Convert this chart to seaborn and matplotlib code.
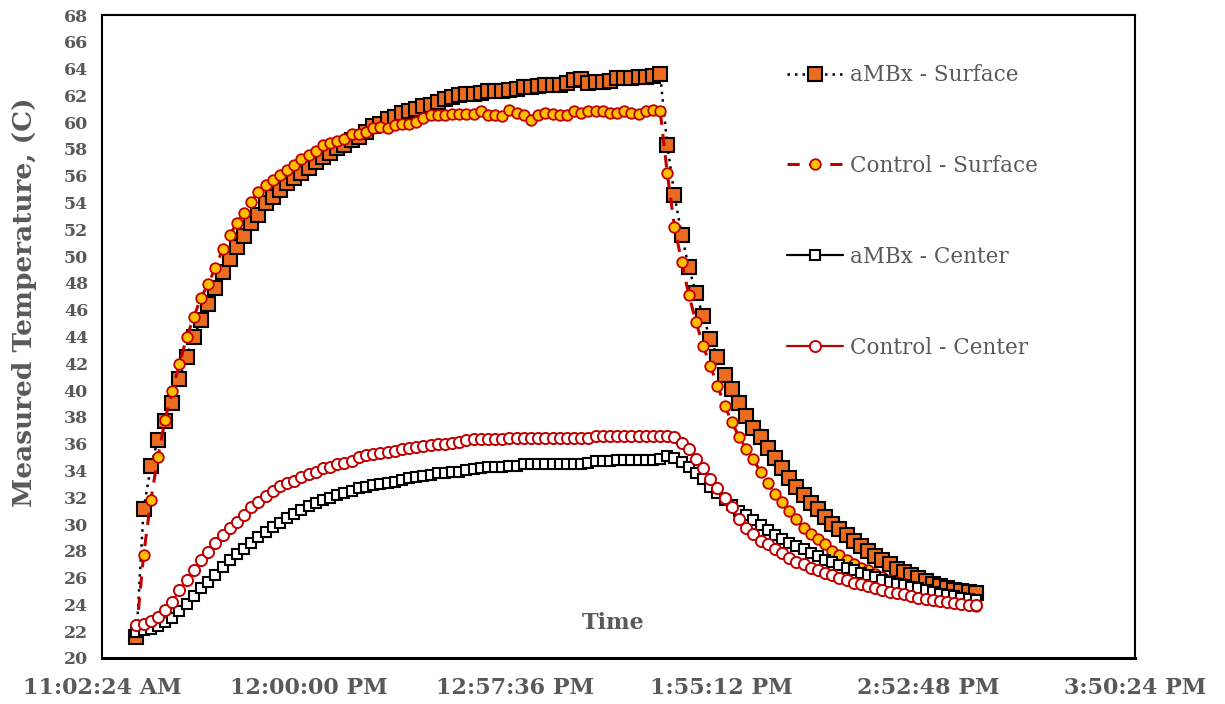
import matplotlib
matplotlib.use("Agg")
import matplotlib.pyplot as plt
import matplotlib.dates as mdates
import seaborn as sns
import pandas as pd

# ---------------- data ----------------
start_time = "2000-01-01 11:12:00"
sample_step = "2min"

ambx_surface = [
    21.6, 31.1, 34.3, 36.3, 37.7, 39.0, 40.8, 42.5,
    44.0, 45.2, 46.4, 47.6, 48.8, 49.8, 50.7, 51.5, 52.5, 53.1, 53.95, 54.45,
    54.95, 55.45, 55.8, 56.2, 56.6, 57.06, 57.4, 57.7, 58.06, 58.3, 58.7, 58.9,
    59.3, 59.7, 59.9, 60.2, 60.4,
    60.7, 60.8, 61.0, 61.2, 61.3, 61.5, 61.7, 61.9, 62.05, 62.1, 62.1, 62.15,
    62.3, 62.35, 62.3, 62.4, 62.5, 62.6, 62.65, 62.7, 62.75, 62.75, 62.8, 62.95,
    63.15, 63.2, 62.95, 63.0, 63.0, 63.05, 63.3, 63.3, 63.3, 63.35, 63.4, 63.45, 63.6,
    58.3, 54.55, 51.6, 49.18, 47.24, 45.5, 43.8, 42.46, 41.12, 40.05, 39.05, 38.03,
    37.2, 36.5, 35.65, 34.9, 34.15, 33.4, 32.78, 32.16, 31.58, 31.09, 30.54, 30.04,
    29.6, 29.17, 28.74, 28.35, 27.97, 27.6, 27.3, 27.0, 26.68, 26.43, 26.18, 25.98,
    25.75, 25.56, 25.38, 25.23, 25.1, 25.0, 24.93, 24.86,
]

control_surface = [
    22.0, 27.67, 31.78, 35.0, 37.8, 39.95, 41.95, 43.95, 45.45,
    46.9, 47.92, 49.1, 50.5, 51.58, 52.46, 53.2, 54.07, 54.75, 55.32, 55.65,
    56.07, 56.44, 56.8, 57.26, 57.56, 57.88, 58.3, 58.48, 58.63, 58.74, 59.13,
    59.13, 59.3, 59.56, 59.63, 59.56, 59.8, 59.88, 59.9, 59.98,
    60.3, 60.55, 60.5, 60.55, 60.63, 60.63, 60.63, 60.63, 60.8, 60.55, 60.5,
    60.48, 60.93, 60.68, 60.55, 60.18, 60.55, 60.68, 60.63, 60.55, 60.55, 60.8,
    60.68, 60.8, 60.8, 60.87, 60.68, 60.68, 60.8, 60.68, 60.63, 60.87, 60.93, 60.87,
    56.17, 52.21, 49.58, 47.11, 45.1, 43.3, 41.82, 40.32, 38.84, 37.63, 36.5, 35.6,
    34.82, 33.9, 33.08, 32.23, 31.66, 30.99, 30.34, 29.74, 29.24, 28.85, 28.5, 28.0,
    27.67, 27.35, 27.0, 26.75, 26.55, 26.3, 26.05, 25.86, 25.68, 25.5, 25.3, 25.13,
    24.93, 24.76, 24.56, 24.36, 24.24, 24.06, 23.94, 23.9,
]

ambx_center = [
    21.94, 22.07, 22.2, 22.37, 22.69, 23.02, 23.51, 24.06, 24.61, 25.19, 25.68,
    26.18, 26.8, 27.3, 27.73, 28.17, 28.59, 29.0, 29.41, 29.79, 30.09, 30.42,
    30.74, 31.04, 31.34, 31.58, 31.78, 31.98, 32.16, 32.33, 32.48, 32.66, 32.78,
    32.9, 32.98, 33.08, 33.15, 33.28, 33.4, 33.48, 33.58,
    33.65, 33.78, 33.82, 33.9, 33.9, 34.03, 34.08, 34.22, 34.27, 34.27, 34.27,
    34.3, 34.3, 34.45, 34.47, 34.47, 34.5, 34.5, 34.5, 34.5, 34.5, 34.5, 34.55,
    34.7, 34.72, 34.72, 34.75, 34.75, 34.75, 34.75, 34.75, 34.8, 34.85,
    35.1, 34.9, 34.6,
    34.27, 33.78, 33.33, 32.78, 32.33, 31.78, 31.41, 30.98, 30.66, 30.29, 29.92,
    29.54, 29.17, 28.92, 28.59, 28.35, 28.1, 27.85, 27.6, 27.35, 27.17, 26.93,
    26.75, 26.55, 26.35, 26.18, 26.05, 25.86, 25.68, 25.56, 25.43, 25.3, 25.19,
    25.06, 24.93, 24.81, 24.69, 24.61, 24.51, 24.44, 24.31,
]

control_center = [
    22.44, 22.52, 22.74, 23.06, 23.56, 24.18, 25.06, 25.8, 26.55, 27.3, 27.92,
    28.59, 29.17, 29.67, 30.16, 30.66, 31.24, 31.66, 32.08, 32.48, 32.83, 33.03,
    33.23, 33.48, 33.73, 33.9, 34.15, 34.27, 34.47, 34.57, 34.72, 34.97, 35.15,
    35.22, 35.27, 35.39, 35.47, 35.57, 35.65, 35.77, 35.82,
    35.9, 35.95, 36.0, 36.05, 36.1, 36.3, 36.33, 36.35, 36.35, 36.35, 36.38,
    36.4, 36.4, 36.4, 36.4, 36.4, 36.4, 36.4, 36.4, 36.42, 36.42, 36.42, 36.45,
    36.57, 36.57, 36.57, 36.57, 36.57, 36.57, 36.57, 36.57, 36.57, 36.57,
    36.55, 36.5,
    36.07, 35.57, 34.82, 34.15, 33.33, 32.66, 31.91, 31.24, 30.34, 29.74, 29.24,
    28.74, 28.5, 28.17, 27.85, 27.5, 27.17, 27.0, 26.75, 26.55, 26.35, 26.18,
    26.0, 25.8, 25.63, 25.5, 25.36, 25.19, 25.06, 24.93, 24.86, 24.76, 24.63,
    24.51, 24.44, 24.36, 24.26, 24.19, 24.11, 24.06, 23.99, 23.94,
]

series_names = ["aMBx - Surface", "Control - Surface", "aMBx - Center", "Control - Center"]
x_tick_labels = ["11:02:24 AM", "12:00:00 PM", "12:57:36 PM", "1:55:12 PM", "2:52:48 PM", "3:50:24 PM"]
y_ticks = list(range(20, 69, 2))

# ---------------- style ----------------
sns.set_style("white")
plt.rcParams["font.family"] = ["DejaVu Serif"]
GRAY = "#595959"
RED = "#C00000"
ORANGE = "#EB6B21"
GOLD = "#FFC000"

fig = plt.figure(figsize=(12.25, 7.04), dpi=100)
ax = fig.add_axes([102 / 1225, 1 - 658 / 704, (1135 - 102) / 1225, (658 - 15) / 704])

def times_for(vals):
    return pd.date_range(start_time, periods=len(vals), freq=sample_step)

styles = [
    dict(color="black", linestyle=(0, (1, 2)), linewidth=1.8, marker="s", markersize=10,
         markerfacecolor=ORANGE, markeredgecolor="black", markeredgewidth=1.5),
    dict(color=RED, linestyle=(0, (4, 3)), linewidth=2.2, marker="o", markersize=7.6,
         markerfacecolor=GOLD, markeredgecolor=RED, markeredgewidth=1.3),
    dict(color="black", linestyle="-", linewidth=1.6, marker="s", markersize=7.6,
         markerfacecolor="white", markeredgecolor="black", markeredgewidth=1.5),
    dict(color=RED, linestyle="-", linewidth=1.6, marker="o", markersize=8,
         markerfacecolor="white", markeredgecolor=RED, markeredgewidth=1.4),
]

for vals, name, st in zip([ambx_surface, control_surface, ambx_center, control_center],
                          series_names, styles):
    sns.lineplot(x=times_for(vals), y=vals, ax=ax, label=name, **st)

# axes limits and ticks
tick_times = pd.to_datetime(["2000-01-01 " + t for t in x_tick_labels], format="%Y-%m-%d %I:%M:%S %p")
tick_nums = mdates.date2num(tick_times)
ax.set_xlim(tick_nums[0], tick_nums[-1])
ax.set_xticks(tick_nums)
ax.set_xticklabels(x_tick_labels)
ax.set_ylim(20, 68)
ax.set_yticks(y_ticks)
ax.set_yticklabels([str(v) for v in y_ticks])

ax.tick_params(axis="x", length=0, pad=13.5, labelsize=16, labelcolor=GRAY)
ax.tick_params(axis="y", length=0, pad=10, labelsize=12.5, labelcolor=GRAY)
for lab in ax.get_xticklabels() + ax.get_yticklabels():
    lab.set_fontweight("bold")

for side in ["left", "right", "top"]:
    ax.spines[side].set_color("black")
    ax.spines[side].set_linewidth(1.5)
ax.spines["bottom"].set_color("black")
ax.spines["bottom"].set_linewidth(2.2)
ax.grid(False)

ax.set_xlabel("Time", fontsize=16, fontweight="bold", color=GRAY)
ax.xaxis.set_label_coords(0.495, 0.072)
ax.set_ylabel("Measured Temperature, (C)", fontsize=19, fontweight="bold", color=GRAY)
ax.yaxis.set_label_coords(-0.063, 0.554)

leg = ax.legend(loc="upper left", bbox_to_anchor=(0.655, 0.937), frameon=False,
                fontsize=15.5, handlelength=2.6, handletextpad=0.3, labelspacing=3.2,
                borderaxespad=0)
for t in leg.get_texts():
    t.set_color(GRAY)

fig.savefig("out.png", dpi=100)
